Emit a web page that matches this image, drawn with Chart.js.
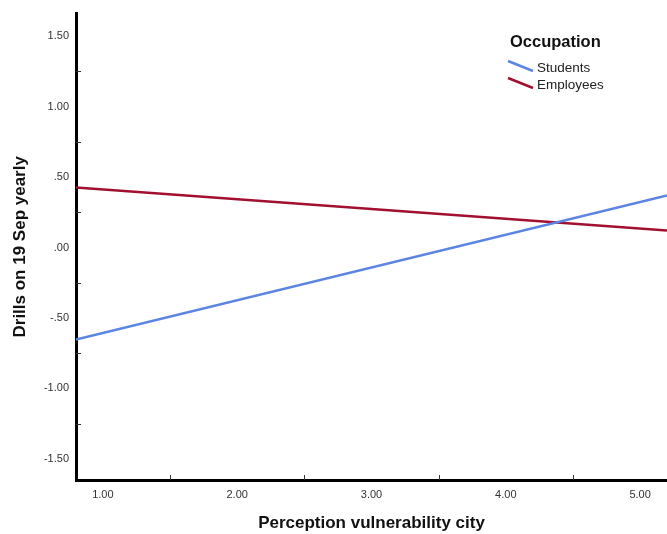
<!DOCTYPE html>
<html lang="en">
<head>
  <meta charset="UTF-8">
  <title>Drills on 19 Sep yearly by perception vulnerability city</title>
  <script src="https://cdn.jsdelivr.net/npm/chart.js"></script>
  <style>
    html, body {
      margin: 0;
      padding: 0;
      background: #fff;
    }
    #wrap {
      position: relative;
      width: 667px;
      height: 534px;
    }
  </style>
</head>
<body>
  <div id="wrap">
    <canvas id="fitChart" width="667" height="534"></canvas>
  </div>

  <script>
    // values (fit lines, ends at the visible x range)
    const xEnds = [0.80, 5.20];
    const students = [-0.654, 0.370];
    const employees = [0.426, 0.121];

    const seriesNames = ["Students", "Employees"];
    const seriesColors = ["#5B84E3", "#A3102F"];
    const legendTitle = "Occupation";

    // labelled ticks and the small unlabelled ones between them
    const xTicks = [1, 1.5, 2, 2.5, 3, 3.5, 4, 4.5, 5];
    const yTicks = [-1.5, -1.25, -1, -0.75, -0.5, -0.25, 0, 0.25, 0.5, 0.75, 1, 1.25, 1.5];
    const xStep = 1;
    const yStep = 0.5;

    const FONT = "'Liberation Sans', Arial, sans-serif";

    // SPSS style: ".50", "-1.00", ".00"
    function spssLabel(v) {
      let s = Math.abs(v).toFixed(2);
      if (s.startsWith("0")) s = s.slice(1);
      return (v < 0 ? "-" : "") + s;
    }
    const onStep = (v, step) => Math.abs(v / step - Math.round(v / step)) < 1e-6;

    function toPoints(ys) {
      return xEnds.map((x, i) => ({ x: x, y: ys[i] }));
    }

    // small inward tick marks between the labels
    const innerTicks = {
      id: "innerTicks",
      afterDatasetsDraw(chart) {
        const ctx = chart.ctx;
        const area = chart.chartArea;
        ctx.save();
        ctx.strokeStyle = "#333";
        ctx.lineWidth = 1;
        xTicks.filter(v => !onStep(v, xStep)).forEach(v => {
          const px = Math.round(chart.scales.x.getPixelForValue(v)) + 0.5;
          ctx.beginPath();
          ctx.moveTo(px, area.bottom);
          ctx.lineTo(px, area.bottom - 5);
          ctx.stroke();
        });
        yTicks.filter(v => !onStep(v, yStep)).forEach(v => {
          const py = Math.round(chart.scales.y.getPixelForValue(v)) + 0.5;
          ctx.beginPath();
          ctx.moveTo(area.left, py);
          ctx.lineTo(area.left + 5, py);
          ctx.stroke();
        });
        ctx.restore();
      }
    };

    // legend drawn inside the plot, top right, with slanted swatches
    const insideLegend = {
      id: "insideLegend",
      afterDraw(chart) {
        const ctx = chart.ctx;
        ctx.save();
        ctx.fillStyle = "#111";
        ctx.textBaseline = "middle";
        ctx.font = "bold 16.5px " + FONT;
        ctx.fillText(legendTitle, 510, 42);
        ctx.font = "13.5px " + FONT;
        chart.data.datasets.forEach((ds, i) => {
          const y = 67 + i * 17;
          ctx.strokeStyle = ds.borderColor;
          ctx.lineWidth = 2.5;
          ctx.beginPath();
          ctx.moveTo(508, y - 6);
          ctx.lineTo(533, y + 4);
          ctx.stroke();
          ctx.fillStyle = "#222";
          ctx.fillText(ds.label, 537, y + 1);
        });
        ctx.restore();
      }
    };

    new Chart(document.getElementById("fitChart"), {
      type: "scatter",
      data: {
        datasets: [
          {
            label: seriesNames[0],
            data: toPoints(students),
            showLine: true,
            borderColor: seriesColors[0],
            backgroundColor: seriesColors[0],
            borderWidth: 2.5,
            pointRadius: 0
          },
          {
            label: seriesNames[1],
            data: toPoints(employees),
            showLine: true,
            borderColor: seriesColors[1],
            backgroundColor: seriesColors[1],
            borderWidth: 2.5,
            pointRadius: 0
          }
        ]
      },
      options: {
        responsive: false,
        animation: false,
        layout: { padding: { top: 13, right: 0, left: 0, bottom: 0 } },
        plugins: {
          legend: { display: false },
          tooltip: { enabled: false }
        },
        scales: {
          x: {
            type: "linear",
            min: 0.80,
            max: 5.20,
            afterBuildTicks: scale => { scale.ticks = xTicks.map(v => ({ value: v })); },
            afterFit: scale => { scale.height = 54; },
            grid: { display: false, drawTicks: false },
            border: { display: true, color: "#000", width: 3 },
            ticks: {
              autoSkip: false,
              maxRotation: 0,
              padding: 8,
              color: "#333",
              font: { family: FONT, size: 11 },
              callback: v => onStep(v, xStep) ? spssLabel(v) : ""
            },
            title: {
              display: true,
              text: "Perception vulnerability city",
              color: "#111",
              font: { family: FONT, size: 17, weight: "bold" },
              padding: { top: 0, bottom: 0 }
            }
          },
          y: {
            type: "linear",
            min: -1.65,
            max: 1.66,
            afterBuildTicks: scale => { scale.ticks = yTicks.map(v => ({ value: v })); },
            afterFit: scale => { scale.width = 76; },
            grid: { display: false, drawTicks: false },
            border: { display: true, color: "#000", width: 3 },
            ticks: {
              autoSkip: false,
              padding: 7,
              color: "#333",
              font: { family: FONT, size: 11 },
              callback: v => onStep(v, yStep) ? spssLabel(v) : ""
            },
            title: {
              display: true,
              text: "Drills on 19 Sep yearly",
              color: "#111",
              font: { family: FONT, size: 17, weight: "bold" },
              padding: { top: 10, bottom: 0 }
            }
          }
        }
      },
      plugins: [innerTicks, insideLegend]
    });
  </script>
</body>
</html>
